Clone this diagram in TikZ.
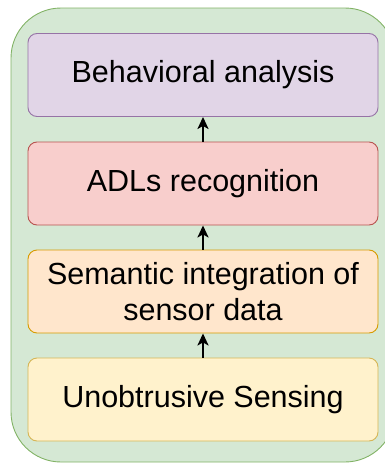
\documentclass[tikz,border=0pt]{standalone}
\usepackage{fontspec}
\setmainfont{Liberation Sans}
\usetikzlibrary{arrows.meta}
\definecolor{contfill}{HTML}{D5E8D4}
\definecolor{contline}{HTML}{82B366}
\definecolor{purfill}{HTML}{E1D5E7}
\definecolor{purline}{HTML}{9673A6}
\definecolor{redfill}{HTML}{F8CECC}
\definecolor{redline}{HTML}{B85450}
\definecolor{orafill}{HTML}{FFE6CC}
\definecolor{oraline}{HTML}{D79B00}
\definecolor{yelfill}{HTML}{FFF2CC}
\definecolor{yelline}{HTML}{D6B656}
\tikzset{
  layer/.style={draw, line width=0.9pt, rounded corners=9pt, minimum width=350pt,
    minimum height=83pt, align=center, inner sep=0pt,
    font=\fontsize{30.5}{36}\selectfont},
  uparrow/.style={-{Stealth[length=12pt,width=11pt,inset=3pt]}, line width=2.4pt, black}
}
\begin{document}
\begin{tikzpicture}[x=1pt,y=-1pt]
\useasboundingbox (0,0) rectangle (385,463);
\clip (0,0) rectangle (385,463);
% outer container
\path[draw=contline, fill=contfill, line width=0.9pt, rounded corners=50pt]
  (11,8) rectangle (395,462);
% stacked layers
\node[layer, fill=purfill, draw=purline] (beh) at (203,75) {Behavioral analysis};
\node[layer, fill=redfill, draw=redline] (adl) at (203,183.5) {ADLs recognition};
\node[layer, fill=orafill, draw=oraline] (sem) at (203,291.5) {Semantic integration of\\sensor data};
\node[layer, fill=yelfill, draw=yelline] (uns) at (203,399.5) {Unobtrusive Sensing};
% connectors
\draw[uparrow] (adl.north) -- (beh.south);
\draw[uparrow] (sem.north) -- (adl.south);
\draw[uparrow] (uns.north) -- (sem.south);
\end{tikzpicture}
\end{document}
